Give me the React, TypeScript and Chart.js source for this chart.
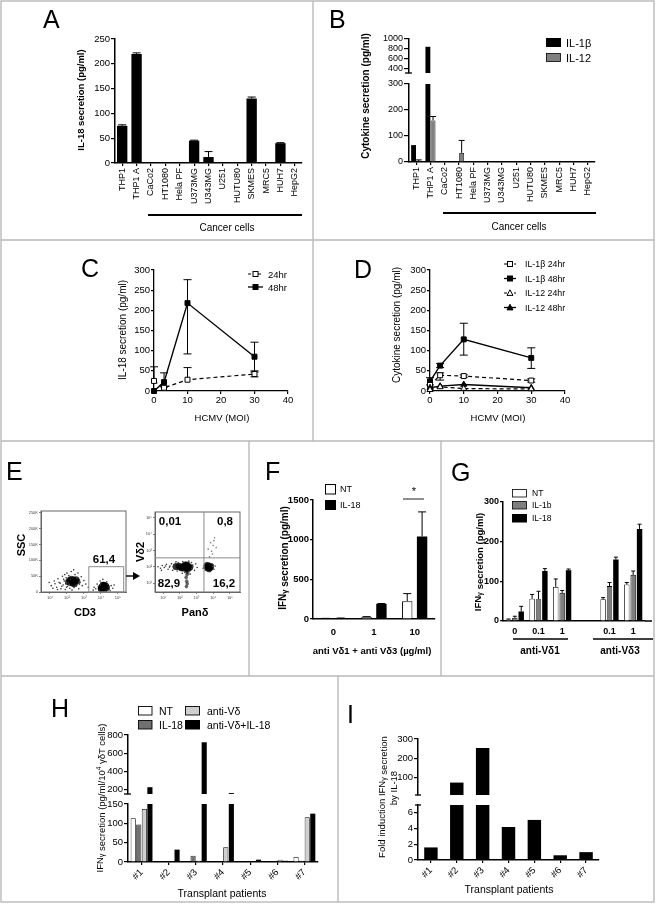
import React, { useEffect, useRef } from 'react';
import { Chart, registerables } from 'chart.js';

Chart.register(...registerables);

const FONT = "'Liberation Sans', Arial, Helvetica, sans-serif";
const PW = 656;
const PH = 904;

// ---------------- Panel A ----------------
const CELL_LINES = ['THP1', 'THP1 A', 'CaCo2', 'HT1080', 'Hela PF', 'U373MG', 'U343MG', 'U251', 'HUTU80', 'SKMES', 'MRC5', 'HUH7', 'HepG2'];
const A_IL18 = [75, 220, 0, 0, 0, 45, 12, 0, 0, 130, 0, 40, 0];
const A_IL18_ERR = [77, 222, 0, 0, 0, 46, 23, 0, 0, 133, 0, 41, 0];
const A_TICKS = [0, 50, 100, 150, 200, 250];

// ---------------- Panel B ----------------
const B_IL1B = [65, 840, 0, 0, 0, 0, 0, 0, 0, 0, 0, 0, 0];
const B_IL12 = [4, 160, 0, 35, 0, 0, 0, 0, 0, 0, 0, 0, 0];
const B_IL12_ERR = [8, 175, 0, 83, 0, 0, 0, 0, 0, 0, 0, 0, 0];
const B_LOW_TICKS = [0, 100, 200, 300];
const B_HIGH_TICKS = [400, 600, 800, 1000];
const B_LOW_RANGE = [0, 300];
const B_HIGH_RANGE = [300, 1000];

// ---------------- Panel C ----------------
const MOI = [0, 3, 10, 30];
const MOI_TICKS = [0, 10, 20, 30, 40];
const CONC_TICKS = [0, 50, 100, 150, 200, 250, 300];
const C_24 = [25, 8, 28, 42];
const C_24_HI = [60, 10, 58, 47];
const C_24_LO = [25, 8, 28, 35];
const C_48 = [0, 22, 218, 85];
const C_48_HI = [0, 45, 276, 121];
const C_48_LO = [0, 12, 92, 50];

// ---------------- Panel D ----------------
const D_B24 = [15, 39, 37, 26];
const D_B24_HI = [15, 45, 40, 30];
const D_B24_LO = [15, 27, 34, 22];
const D_B48 = [24, 63, 128, 82];
const D_B48_HI = [33, 68, 168, 107];
const D_B48_LO = [15, 58, 89, 56];
const D_12_24 = [3, 10, 6, 5];
const D_12_48 = [8, 12, 16, 8];

// ---------------- Panel E (flow cytometry) ----------------
const LOG_TICKS = [10, 100, 1000, 10000, 100000];
const LOG_LABELS = ['10\u00b9', '10\u00b2', '10\u00b3', '10\u2074', '10\u2075'];
const SSC_TICKS = [0, 50000, 100000, 150000, 200000, 250000];
const SSC_LABELS = ['0', '50K', '100K', '150K', '200K', '250K'];
const E1_NEG_HALO = [
  [12, 20000], [18, 35000], [25, 15000], [30, 42000], [40, 28000], [45, 10000], [55, 50000], [60, 22000],
  [70, 35000], [80, 8000], [90, 45000], [100, 60000], [110, 18000], [130, 52000], [150, 12000], [160, 40000],
  [180, 65000], [200, 6000], [220, 48000], [260, 14000], [300, 55000], [350, 20000], [400, 42000], [500, 10000],
  [600, 30000], [700, 48000], [800, 20000], [1000, 36000], [1300, 25000], [1800, 15000], [35, 30000], [65, 40000],
  [120, 30000], [140, 24000], [20, 26000], [28, 8000], [50, 18000], [9, 30000], [15, 12000], [75, 55000],
  [450, 60000], [550, 25000], [250, 70000], [85, 26000], [95, 15000],
];
const E1_NEG_CORE = [[120, 32000], [160, 29000], [200, 36000], [250, 39000], [300, 33000], [220, 27000], [350, 40000], [180, 41000], [280, 25000], [400, 34000], [140, 37000]];
const E1_POS_HALO = [
  [5000, 10000], [6000, 25000], [8000, 5000], [9000, 35000], [25000, 25000], [30000, 8000], [40000, 20000], [50000, 12000],
  [7000, 18000], [10000, 28000], [22000, 32000], [35000, 4000], [4000, 15000], [13000, 40000], [28000, 15000], [60000, 22000],
  [3500, 6000], [19000, 3000], [9500, 22000], [24000, 6000],
];
const E1_POS_CORE = [[12000, 15000], [16000, 12000], [18000, 18000], [14000, 20000], [20000, 14000], [15000, 9000], [11000, 11000], [13000, 13000]];
const E1_GATE_X = [1950, 220000];
const E1_GATE_Y = [0, 80000];

const E2_MAIN_HALO = [
  [5, 100], [7, 80], [9, 120], [12, 90], [16, 140], [20, 70], [26, 110], [32, 150], [38, 60], [45, 130], [55, 165], [70, 55],
  [80, 180], [500, 80], [600, 125], [750, 60], [900, 150], [1100, 90], [150, 210], [350, 220], [200, 45], [420, 35], [140, 40],
  [8, 60], [14, 110], [24, 95], [40, 100], [600, 100], [60, 200], [500, 180],
];
const E2_MAIN_CORE = [[60, 100], [90, 110], [130, 95], [180, 105], [230, 92], [280, 110], [330, 100], [400, 92], [170, 82], [120, 85], [210, 128], [270, 130], [320, 78], [250, 100]];
const E2_TAIL = [[250, 50], [270, 32], [240, 22], [260, 13], [300, 42], [230, 62], [280, 9], [250, 6]];
const E2_POS_CORE = [[4000, 100], [5000, 90], [6000, 110], [7000, 95], [5500, 75], [4500, 120], [6200, 85]];
const E2_POS_HALO = [[2500, 80], [3000, 140], [9000, 100], [11000, 70], [8500, 150], [3300, 60], [13000, 110], [6500, 50], [4200, 180], [10000, 130], [3000, 100]];
const E2_UPPER = [[6000, 400], [8000, 900], [10000, 2000], [7000, 3000], [12000, 6000], [9000, 600], [15000, 1500], [5000, 1200], [11000, 4000]];
const E2_QUAD = [2800, 350];

// ---------------- Panel F ----------------
const F_CATS = ['0', '1', '10'];
const F_NT = [5, 25, 225];
const F_NT_ERR = [8, 30, 320];
const F_IL18 = [10, 190, 1040];
const F_IL18_ERR = [12, 195, 1350];
const F_TICKS = [0, 500, 1000, 1500];

// ---------------- Panel G ----------------
const G_CATS = ['0', '0.1', '1', '', '0.1', '1'];
const G_NT = [4, 56, 86, null, 55, 92];
const G_NT_ERR = [5, 67, 106, null, 59, 97];
const G_IL1B = [8, 55, 71, null, 88, 116];
const G_IL1B_ERR = [12, 75, 77, null, 97, 126];
const G_IL18 = [24, 126, 128, null, 155, 232];
const G_IL18_ERR = [37, 132, 131, null, 161, 244];
const G_TICKS = [0, 100, 200, 300];

// ---------------- Panel H ----------------
const PATIENTS = ['#1', '#2', '#3', '#4', '#5', '#6', '#7'];
const H_NT = [113, 0, 0, 0, 0, 0, 13];
const H_IL18 = [97, 0, 16, 0, 0, 0, 3];
const H_ANTI = [137, 0, 3, 38, 0, 6, 116];
const H_ANTI_IL18 = [225, 32, 720, 160, 6, 3, 125];
const H_LOW_TICKS = [0, 50, 100, 150];
const H_HIGH_TICKS = [200, 400, 600, 800];
const H_LOW_RANGE = [0, 150];
const H_HIGH_RANGE = [150, 800];

// ---------------- Panel I ----------------
const I_FOLD = [1.6, 72, 253, 4.2, 5.1, 0.6, 1.0];
const I_LOW_TICKS = [0, 2, 4, 6];
const I_HIGH_TICKS = [100, 200, 300];
const I_LOW_RANGE = [0, 7];
const I_HIGH_RANGE = [7, 300];

// ================= helpers =================
const fnt = (size: number, bold = false): any => ({ family: FONT, size, weight: bold ? 'bold' : 'normal' });

function base(area: number[], yW: number, xH: number): any {
  const [l, t, r, b] = area;
  return {
    responsive: false,
    maintainAspectRatio: false,
    animation: false,
    events: [],
    layout: { padding: { left: l - yW, top: t, right: PW - r, bottom: PH - b - xH } },
    plugins: { legend: { display: false }, tooltip: { enabled: false }, title: { display: false } },
  };
}

function yAxis(o: { range: number[]; ticks: number[]; w: number; size: number; bold?: boolean; tl?: number; bw?: number; pad?: number }): any {
  return {
    type: 'linear',
    position: 'left',
    min: o.range[0],
    max: o.range[1],
    afterBuildTicks: (s: any) => { s.ticks = o.ticks.map((v) => ({ value: v })); },
    afterFit: (s: any) => { s.width = o.w; },
    grid: { display: true, drawOnChartArea: false, drawTicks: true, tickLength: o.tl ?? 4, color: '#000', lineWidth: 1.2 },
    border: { display: true, color: '#000', width: o.bw ?? 1.5 },
    ticks: { autoSkip: false, color: '#000', padding: o.pad ?? 1, font: fnt(o.size, o.bold), callback: (v: any) => String(v) },
  };
}

function xCat(o: { h: number; size: number; bold?: boolean; rot?: number; tl?: number; ticks?: boolean; pad?: number; bw?: number }): any {
  return {
    type: 'category',
    position: 'bottom',
    offset: true,
    afterFit: (s: any) => { s.height = o.h; },
    grid: { display: true, drawOnChartArea: false, offset: false, drawTicks: o.ticks ?? true, tickLength: o.tl ?? 3, color: '#000', lineWidth: 1.2 },
    border: { display: true, color: '#000', width: o.bw ?? 1.5 },
    ticks: { autoSkip: false, minRotation: o.rot ?? 0, maxRotation: o.rot ?? 0, color: '#000', padding: o.pad ?? 2, font: fnt(o.size, o.bold) },
  };
}

const xHidden = (): any => ({ type: 'category', display: false, offset: true });

function xLin(range: number[], ticks: number[], h: number): any {
  return {
    type: 'linear',
    position: 'bottom',
    min: range[0],
    max: range[1],
    afterBuildTicks: (s: any) => { s.ticks = ticks.map((v) => ({ value: v })); },
    afterFit: (s: any) => { s.height = h; },
    grid: { display: true, drawOnChartArea: false, drawTicks: true, tickLength: 3, color: '#000', lineWidth: 1.2 },
    border: { display: true, color: '#000', width: 1.3 },
    ticks: { autoSkip: false, minRotation: 0, maxRotation: 0, color: '#000', padding: 1, font: fnt(9.5), callback: (v: any) => String(v) },
  };
}

const bar = (data: any[], color: string, bw: number, extra: any = {}): any => ({
  data, backgroundColor: color, borderColor: '#000', borderWidth: bw, borderSkipped: 'start', clip: 0, ...extra,
});

const pts = (xs: number[], ys: number[]) => xs.map((x, i) => ({ x, y: ys[i] }));
const pairs = (arr: number[][]) => arr.map(([x, y]) => ({ x, y }));

const lineDs = (data: any[], filled: boolean, dashed: boolean, style: string, hi?: number[], lo?: number[]): any => ({
  data,
  borderColor: '#000',
  borderWidth: dashed ? 1.2 : 1.4,
  borderDash: dashed ? [4, 3] : [],
  pointStyle: style,
  pointRadius: 3.5,
  pointBorderWidth: 1,
  pointBorderColor: '#000',
  pointBackgroundColor: filled ? '#000' : '#fff',
  fill: false,
  tension: 0,
  clip: false,
  errHi: hi,
  errLo: lo,
  capW: 4,
});

const errorBarPlugin: any = {
  id: 'errbars',
  beforeDatasetsDraw(chart: any) {
    const ctx = chart.ctx;
    const ys = chart.scales.y;
    const a = chart.chartArea;
    chart.data.datasets.forEach((ds: any, i: number) => {
      if (!ds.errHi && !ds.errLo) return;
      const meta = chart.getDatasetMeta(i);
      ctx.save();
      ctx.beginPath();
      ctx.rect(a.left - 20, a.top - 4, a.right - a.left + 40, a.bottom - a.top + 8);
      ctx.clip();
      ctx.strokeStyle = '#000';
      ctx.lineWidth = 1;
      const cap = ds.capW ?? 3;
      meta.data.forEach((el: any, j: number) => {
        const v = ds.data[j];
        const val = v !== null && typeof v === 'object' ? v.y : v;
        if (val == null) return;
        const y0 = ys.getPixelForValue(val);
        [ds.errHi?.[j], ds.errLo?.[j]].forEach((e: any) => {
          if (e == null || e === val) return;
          const y1 = ys.getPixelForValue(e);
          ctx.beginPath();
          ctx.moveTo(el.x, y0);
          ctx.lineTo(el.x, y1);
          ctx.moveTo(el.x - cap, y1);
          ctx.lineTo(el.x + cap, y1);
          ctx.stroke();
        });
      });
      ctx.restore();
    });
  },
};

function flowPlugin(kind: 'gate' | 'quad'): any {
  return {
    id: 'flow_' + kind,
    afterDraw(chart: any) {
      const { ctx, chartArea: a, scales } = chart;
      ctx.save();
      ctx.strokeStyle = '#666';
      ctx.lineWidth = 1;
      ctx.strokeRect(a.left, a.top, a.right - a.left, a.bottom - a.top);
      ctx.strokeStyle = '#8c8c8c';
      if (kind === 'gate') {
        const x0 = scales.x.getPixelForValue(E1_GATE_X[0]);
        const x1 = scales.x.getPixelForValue(E1_GATE_X[1]);
        const y0 = scales.y.getPixelForValue(E1_GATE_Y[0]);
        const y1 = scales.y.getPixelForValue(E1_GATE_Y[1]);
        ctx.strokeRect(x0, y1, x1 - x0, y0 - y1);
      } else {
        const qx = scales.x.getPixelForValue(E2_QUAD[0]);
        const qy = scales.y.getPixelForValue(E2_QUAD[1]);
        ctx.beginPath();
        ctx.moveTo(qx, a.top);
        ctx.lineTo(qx, a.bottom);
        ctx.moveTo(a.left, qy);
        ctx.lineTo(a.right, qy);
        ctx.stroke();
      }
      ctx.restore();
    },
  };
}

function flowAxis(kind: 'logx' | 'logy' | 'ssc', range: number[], size: number, horizontal: boolean): any {
  const isLog = kind !== 'ssc';
  const ticks = isLog ? LOG_TICKS : SSC_TICKS;
  const labels = isLog ? LOG_LABELS : SSC_LABELS;
  return {
    type: isLog ? 'logarithmic' : 'linear',
    position: horizontal ? 'bottom' : 'left',
    min: range[0],
    max: range[1],
    afterBuildTicks: (s: any) => { s.ticks = ticks.map((v) => ({ value: v })); },
    afterFit: (s: any) => { if (horizontal) s.height = size; else s.width = size; },
    grid: { display: true, drawOnChartArea: false, drawTicks: true, tickLength: 2, color: '#666', lineWidth: 0.8 },
    border: { display: true, color: '#666', width: 1 },
    ticks: {
      autoSkip: false, minRotation: 0, maxRotation: 0, color: '#444', padding: 1, font: fnt(4),
      callback: (v: any) => labels[ticks.indexOf(v)] ?? '',
    },
  };
}

const dots = (arr: number[][], r: number, color: string): any => ({ data: pairs(arr), pointRadius: r, backgroundColor: color, borderWidth: 0 });

// ================= chart configs =================
function buildConfigs(): any[] {
  const cfgs: any[] = [];

  // A
  cfgs.push({
    type: 'bar',
    data: { labels: CELL_LINES, datasets: [bar(A_IL18, '#000', 0, { errHi: A_IL18_ERR, capW: 4, categoryPercentage: 0.72, barPercentage: 1 })] },
    options: { ...base([115, 39, 302, 163], 30, 50), scales: { x: xCat({ h: 50, size: 9, rot: 90 }), y: yAxis({ range: [0, 250], ticks: A_TICKS, w: 30, size: 9.5 }) } },
    plugins: [errorBarPlugin],
  });

  // B lower & upper
  const bSets = (withErr: boolean) => [
    bar(B_IL1B, '#000', 0, { categoryPercentage: 0.72, barPercentage: 0.95 }),
    bar(B_IL12, '#808080', 0.8, { categoryPercentage: 0.72, barPercentage: 0.95, errHi: withErr ? B_IL12_ERR : undefined, capW: 3 }),
  ];
  cfgs.push({
    type: 'bar',
    data: { labels: CELL_LINES, datasets: bSets(true) },
    options: { ...base([409, 84, 595, 162], 30, 50), scales: { x: xCat({ h: 50, size: 9, rot: 90 }), y: yAxis({ range: B_LOW_RANGE, ticks: B_LOW_TICKS, w: 30, size: 9, tl: 5 }) } },
    plugins: [errorBarPlugin],
  });
  cfgs.push({
    type: 'bar',
    data: { labels: CELL_LINES, datasets: bSets(false) },
    options: { ...base([409, 39, 595, 73], 30, 0), scales: { x: xHidden(), y: yAxis({ range: B_HIGH_RANGE, ticks: B_HIGH_TICKS, w: 30, size: 9, tl: 5 }) } },
  });

  // C
  cfgs.push({
    type: 'line',
    data: {
      datasets: [
        lineDs(pts(MOI, C_24), false, true, 'rect', C_24_HI, C_24_LO),
        lineDs(pts(MOI, C_48), true, false, 'rect', C_48_HI, C_48_LO),
      ],
    },
    options: { ...base([154, 270, 288, 391], 30, 30), scales: { x: xLin([0, 40], MOI_TICKS, 30), y: yAxis({ range: [0, 300], ticks: CONC_TICKS, w: 30, size: 9.5, tl: 3, bw: 1.3 }) } },
    plugins: [errorBarPlugin],
  });

  // D
  cfgs.push({
    type: 'line',
    data: {
      datasets: [
        lineDs(pts(MOI, D_12_24), false, true, 'triangle'),
        lineDs(pts(MOI, D_12_48), true, false, 'triangle'),
        lineDs(pts(MOI, D_B24), false, true, 'rect', D_B24_HI, D_B24_LO),
        lineDs(pts(MOI, D_B48), true, false, 'rect', D_B48_HI, D_B48_LO),
      ],
    },
    options: { ...base([430, 270, 565, 391], 30, 30), scales: { x: xLin([0, 40], MOI_TICKS, 30), y: yAxis({ range: [0, 300], ticks: CONC_TICKS, w: 30, size: 9.5, tl: 3, bw: 1.3 }) } },
    plugins: [errorBarPlugin],
  });

  // E left (CD3 vs SSC)
  cfgs.push({
    type: 'scatter',
    data: {
      datasets: [
        dots(E1_NEG_HALO, 0.8, '#333'),
        dots(E1_POS_HALO, 0.8, '#333'),
        dots(E1_NEG_CORE, 3.2, 'rgba(0,0,0,0.75)'),
        dots(E1_POS_CORE, 3.8, '#000'),
      ],
    },
    options: { ...base([41, 511, 126, 592], 12, 10), scales: { x: flowAxis('logx', [3, 300000], 10, true), y: flowAxis('ssc', [0, 256000], 12, false) } },
    plugins: [flowPlugin('gate')],
  });

  // E right (Pan-delta vs Vd2)
  cfgs.push({
    type: 'scatter',
    data: {
      datasets: [
        dots(E2_MAIN_HALO, 0.8, '#333'),
        dots(E2_POS_HALO, 0.8, '#333'),
        dots(E2_UPPER, 0.8, '#777'),
        dots(E2_TAIL, 1.8, 'rgba(0,0,0,0.6)'),
        dots(E2_MAIN_CORE, 3.4, 'rgba(0,0,0,0.8)'),
        dots(E2_POS_CORE, 3.4, 'rgba(0,0,0,0.8)'),
      ],
    },
    options: { ...base([155, 512, 240, 592], 12, 10), scales: { x: flowAxis('logx', [3.3, 400000], 10, true), y: flowAxis('logy', [2.8, 230000], 12, false) } },
    plugins: [flowPlugin('quad')],
  });

  // F
  cfgs.push({
    type: 'bar',
    data: {
      labels: F_CATS,
      datasets: [
        bar(F_NT, '#fff', 1, { errHi: F_NT_ERR, capW: 4, categoryPercentage: 0.73, barPercentage: 0.7 }),
        bar(F_IL18, '#000', 0, { errHi: F_IL18_ERR, capW: 4, categoryPercentage: 0.73, barPercentage: 0.7 }),
      ],
    },
    options: { ...base([313, 500, 435, 619], 32, 25), scales: { x: xCat({ h: 25, size: 9.5, bold: true, ticks: false, pad: 8 }), y: yAxis({ range: [0, 1500], ticks: F_TICKS, w: 32, size: 9.5, bold: true, tl: 3 }) } },
    plugins: [errorBarPlugin],
  });

  // G
  cfgs.push({
    type: 'bar',
    data: {
      labels: G_CATS,
      datasets: [
        bar(G_NT, '#fff', 0.8, { errHi: G_NT_ERR, capW: 2, categoryPercentage: 0.81, barPercentage: 0.85 }),
        bar(G_IL1B, '#7f7f7f', 0.8, { errHi: G_IL1B_ERR, capW: 2, categoryPercentage: 0.81, barPercentage: 0.85 }),
        bar(G_IL18, '#000', 0, { errHi: G_IL18_ERR, capW: 2, categoryPercentage: 0.81, barPercentage: 0.85 }),
      ],
    },
    options: { ...base([503, 502, 645, 621], 32, 20), scales: { x: xCat({ h: 20, size: 9, bold: true, ticks: false, pad: 5 }), y: yAxis({ range: [0, 300], ticks: G_TICKS, w: 32, size: 9, bold: true, tl: 3 }) } },
    plugins: [errorBarPlugin],
  });

  // H lower & upper
  const hSets = () => [
    bar(H_NT, '#fff', 0.8, { categoryPercentage: 0.82, barPercentage: 0.92 }),
    bar(H_IL18, '#707070', 0.8, { categoryPercentage: 0.82, barPercentage: 0.92 }),
    bar(H_ANTI, '#cfcfcf', 0.8, { categoryPercentage: 0.82, barPercentage: 0.92 }),
    bar(H_ANTI_IL18, '#000', 0, { categoryPercentage: 0.82, barPercentage: 0.92 }),
  ];
  cfgs.push({
    type: 'bar',
    data: { labels: PATIENTS, datasets: hSets() },
    options: { ...base([128, 804, 318, 862], 28, 30), scales: { x: xCat({ h: 30, size: 9.5, rot: 45 }), y: yAxis({ range: H_LOW_RANGE, ticks: H_LOW_TICKS, w: 28, size: 9.5, tl: 4 }) } },
  });
  cfgs.push({
    type: 'bar',
    data: { labels: PATIENTS, datasets: hSets() },
    options: { ...base([128, 735, 318, 794], 28, 0), scales: { x: xHidden(), y: yAxis({ range: H_HIGH_RANGE, ticks: H_HIGH_TICKS, w: 28, size: 9.5, tl: 4 }) } },
  });

  // I lower & upper
  const iSets = () => [bar(I_FOLD, '#000', 0, { categoryPercentage: 0.52, barPercentage: 1 })];
  cfgs.push({
    type: 'bar',
    data: { labels: PATIENTS, datasets: iSets() },
    options: { ...base([418, 805, 599, 860], 28, 30), scales: { x: xCat({ h: 30, size: 9.5, rot: 45 }), y: yAxis({ range: I_LOW_RANGE, ticks: I_LOW_TICKS, w: 28, size: 9.5, tl: 4 }) } },
  });
  cfgs.push({
    type: 'bar',
    data: { labels: PATIENTS, datasets: iSets() },
    options: { ...base([418, 739, 599, 795], 28, 0), scales: { x: xHidden(), y: yAxis({ range: I_HIGH_RANGE, ticks: I_HIGH_TICKS, w: 28, size: 9.5, tl: 4 }) } },
  });

  return cfgs;
}

const N_CHARTS = buildConfigs().length;

// ================= overlay (titles, legends, letters, frames) =================
function tx(x: number, y: number, s: number, content: any, o: { b?: boolean; a?: string; r?: number; base?: string } = {}) {
  return (
    <text
      x={x}
      y={y}
      fontSize={s}
      fontWeight={o.b ? 'bold' : 'normal'}
      textAnchor={o.a ?? 'middle'}
      dominantBaseline={o.base ?? 'central'}
      transform={o.r ? `rotate(${o.r} ${x} ${y})` : undefined}
      fill="#000"
    >
      {content}
    </text>
  );
}

function ln(x1: number, y1: number, x2: number, y2: number, w = 1.5, c = '#000', dash?: string) {
  return <line x1={x1} y1={y1} x2={x2} y2={y2} stroke={c} strokeWidth={w} strokeDasharray={dash} />;
}

function legendLine(x1: number, x2: number, y: number, dashed: boolean, marker: 'sq' | 'tri', filled: boolean) {
  const cx = (x1 + x2) / 2;
  const fill = filled ? '#000' : '#fff';
  return (
    <g>
      {ln(x1, y, x2, y, dashed ? 1.1 : 1.3, '#000', dashed ? '3 2' : undefined)}
      {marker === 'sq' ? (
        <rect x={cx - 2.5} y={y - 2.5} width={5} height={5} fill={fill} stroke="#000" strokeWidth={1} />
      ) : (
        <polygon points={`${cx},${y - 3.2} ${cx + 3},${y + 2.4} ${cx - 3},${y + 2.4}`} fill={fill} stroke="#000" strokeWidth={1} />
      )}
    </g>
  );
}

function Overlay() {
  const F = '#b9b9b9';
  const sub = (t: string, s = 7.5) => (<><tspan dy={2} fontSize={s}>{t}</tspan><tspan dy={-2}>{''}</tspan></>);
  return (
    <svg width={PW} height={PH} style={{ position: 'absolute', left: 0, top: 0, pointerEvents: 'none' }} fontFamily={FONT}>
      {/* panel frames */}
      <rect x={1} y={1} width={653} height={901} fill="none" stroke={F} strokeWidth={1.4} />
      {ln(1, 240, 654, 240, 1.4, F)}
      {ln(313, 1, 313, 441, 1.4, F)}
      {ln(1, 441, 654, 441, 1.4, F)}
      {ln(249, 441, 249, 676, 1.4, F)}
      {ln(441, 441, 441, 676, 1.4, F)}
      {ln(1, 676, 654, 676, 1.4, F)}
      {ln(338, 676, 338, 902, 1.4, F)}

      {/* panel letters */}
      {tx(43, 28, 25, 'A', { a: 'start', base: 'auto' })}
      {tx(329, 28, 25, 'B', { a: 'start', base: 'auto' })}
      {tx(81, 277, 25, 'C', { a: 'start', base: 'auto' })}
      {tx(354, 278, 25, 'D', { a: 'start', base: 'auto' })}
      {tx(6, 480, 25, 'E', { a: 'start', base: 'auto' })}
      {tx(265, 480, 25, 'F', { a: 'start', base: 'auto' })}
      {tx(451, 481, 25, 'G', { a: 'start', base: 'auto' })}
      {tx(51, 717, 25, 'H', { a: 'start', base: 'auto' })}
      {tx(347, 723, 25, 'I', { a: 'start', base: 'auto' })}

      {/* A */}
      {tx(80, 100, 9.5, 'IL-18 secretion (pg/ml)', { b: true, r: -90 })}
      {ln(148, 215, 302, 215, 2)}
      {tx(227, 227, 10, 'Cancer cells')}

      {/* B */}
      {tx(365, 96, 10, 'Cytokine secretion (pg/ml)', { b: true, r: -90 })}
      {ln(405, 73, 412, 73, 1.3)}
      <rect x={546} y={38} width={15} height={9} fill="#000" />
      <rect x={546.5} y={53.5} width={14} height={8} fill="#808080" stroke="#000" strokeWidth={0.8} />
      {tx(566, 43, 11, 'IL-1\u03b2', { a: 'start' })}
      {tx(566, 58, 11, 'IL-12', { a: 'start' })}
      {ln(443, 213, 596, 213, 2)}
      {tx(519, 226, 10, 'Cancer cells')}

      {/* C */}
      {tx(122, 330, 10, 'IL-18 secretion (pg/ml)', { r: -90 })}
      {tx(222, 417, 9.5, 'HCMV (MOI)')}
      {legendLine(248, 263, 274, true, 'sq', false)}
      {legendLine(248, 263, 287, false, 'sq', true)}
      {tx(268, 274, 9.5, '24hr', { a: 'start' })}
      {tx(268, 287, 9.5, '48hr', { a: 'start' })}

      {/* D */}
      {tx(396, 325, 10, 'Cytokine secretion (pg/ml)', { r: -90 })}
      {tx(498, 417, 9.5, 'HCMV (MOI)')}
      {legendLine(504, 516, 264, true, 'sq', false)}
      {legendLine(504, 516, 278.5, false, 'sq', true)}
      {legendLine(504, 516, 293, true, 'tri', false)}
      {legendLine(504, 516, 307.5, false, 'tri', true)}
      {tx(525, 264, 8.8, 'IL-1\u03b2 24hr', { a: 'start' })}
      {tx(525, 278.5, 8.8, 'IL-1\u03b2 48hr', { a: 'start' })}
      {tx(525, 293, 8.8, 'IL-12 24hr', { a: 'start' })}
      {tx(525, 307.5, 8.8, 'IL-12 48hr', { a: 'start' })}

      {/* E */}
      {tx(21, 545, 11, 'SSC', { b: true, r: -90 })}
      {tx(85, 612, 11, 'CD3', { b: true })}
      {tx(104, 559, 11.5, '61,4', { b: true })}
      {ln(126, 576, 134, 576, 1.4)}
      <polygon points="133,572 140,576 133,580" fill="#000" />
      {tx(140, 552, 11, 'V\u03b42', { b: true, r: -90 })}
      {tx(195, 612, 11, 'Pan\u03b4', { b: true })}
      {tx(170, 521, 11.5, '0,01', { b: true })}
      {tx(225, 521, 11.5, '0,8', { b: true })}
      {tx(169, 583, 11.5, '82,9', { b: true })}
      {tx(224, 583, 11.5, '16,2', { b: true })}

      {/* F */}
      {tx(282, 558, 10, <>IFN{sub('\u03b3')} secretion (pg/ml)</>, { b: true, r: -90 })}
      {tx(372, 650, 9.5, 'anti V\u03b41 + anti V\u03b43 (\u00b5g/ml)', { b: true })}
      <rect x={325.5} y={484.5} width={10} height={9.5} fill="#fff" stroke="#000" strokeWidth={1} />
      <rect x={325} y={500} width={11} height={10} fill="#000" />
      {tx(340, 489, 9, 'NT', { a: 'start' })}
      {tx(340, 505, 9, 'IL-18', { a: 'start' })}
      {ln(403, 499, 424, 499, 1.2, '#444')}
      {tx(414, 491, 11, '*')}

      {/* G */}
      {tx(477, 562, 9.5, <>IFN{sub('\u03b3', 7)} secretion (pg/ml)</>, { b: true, r: -90 })}
      {ln(645, 621, 652, 621, 1.5)}
      <rect x={512.5} y={489.5} width={14} height={7.5} fill="#fff" stroke="#000" strokeWidth={0.8} />
      <rect x={512.5} y={501.5} width={14} height={7.5} fill="#7f7f7f" stroke="#000" strokeWidth={0.8} />
      <rect x={512} y={514} width={15} height={8.5} fill="#000" />
      {tx(532, 493, 8.5, 'NT', { a: 'start' })}
      {tx(532, 505, 8.5, 'IL-1b', { a: 'start' })}
      {tx(532, 518, 8.5, 'IL-18', { a: 'start' })}
      {ln(513, 639, 568, 639, 1.6)}
      {ln(593, 639, 653, 639, 1.6)}
      {tx(540, 650, 10, 'anti-V\u03b41', { b: true })}
      {tx(620, 650, 10, 'anti-V\u03b43', { b: true })}

      {/* H */}
      {tx(99, 798, 9.5, <>IFN{sub('\u03b3', 7)} secretion (pg/ml/10<tspan dy={-3} fontSize={6.5}>4</tspan><tspan dy={3}> </tspan>{'\u03b3\u03b4T cells)'}</>, { r: -90 })}
      {tx(222, 893, 10.5, 'Transplant patients')}
      {ln(124, 794, 131, 794, 1.3)}
      <rect x={138.5} y={706.5} width={13.5} height={8.5} fill="#fff" stroke="#000" strokeWidth={0.9} />
      <rect x={185.5} y={706.5} width={14} height={8.5} fill="#cfcfcf" stroke="#000" strokeWidth={0.9} />
      <rect x={138.5} y={720.5} width={13.5} height={8.5} fill="#707070" stroke="#000" strokeWidth={0.9} />
      <rect x={185} y={720} width={15} height={9.5} fill="#000" />
      {tx(159, 710.5, 10.5, 'NT', { a: 'start' })}
      {tx(207, 710.5, 10.5, 'anti-V\u03b4', { a: 'start' })}
      {tx(159, 724.5, 10.5, 'IL-18', { a: 'start' })}
      {tx(207, 724.5, 10.5, 'anti-V\u03b4+IL-18', { a: 'start' })}

      {/* I */}
      {tx(381, 797, 9.5, <>Fold induction IFN{sub('\u03b3', 7)} secretion</>, { r: -90 })}
      {tx(393, 788, 9.5, 'by IL-18', { r: -90 })}
      {tx(509, 889, 10.5, 'Transplant patients')}
      {ln(415, 795, 421, 795, 1.3)}
      {ln(415, 805, 421, 805, 1.3)}
    </svg>
  );
}

export default function App() {
  const refs = useRef<(HTMLCanvasElement | null)[]>([]);
  useEffect(() => {
    const cfgs = buildConfigs();
    const charts = cfgs.map((cfg, i) => new Chart(refs.current[i] as HTMLCanvasElement, cfg));
    return () => charts.forEach((c) => c.destroy());
  }, []);
  const canvases = [];
  for (let i = 0; i < N_CHARTS; i++) {
    canvases.push(
      <canvas
        key={i}
        ref={(el) => { refs.current[i] = el; }}
        width={PW}
        height={PH}
        style={{ position: 'absolute', left: 0, top: 0, width: PW, height: PH }}
      />
    );
  }
  return (
    <div style={{ position: 'absolute', left: 0, top: 0, width: PW, height: PH, background: '#fff', overflow: 'hidden', fontFamily: FONT }}>
      {canvases}
      <Overlay />
    </div>
  );
}
